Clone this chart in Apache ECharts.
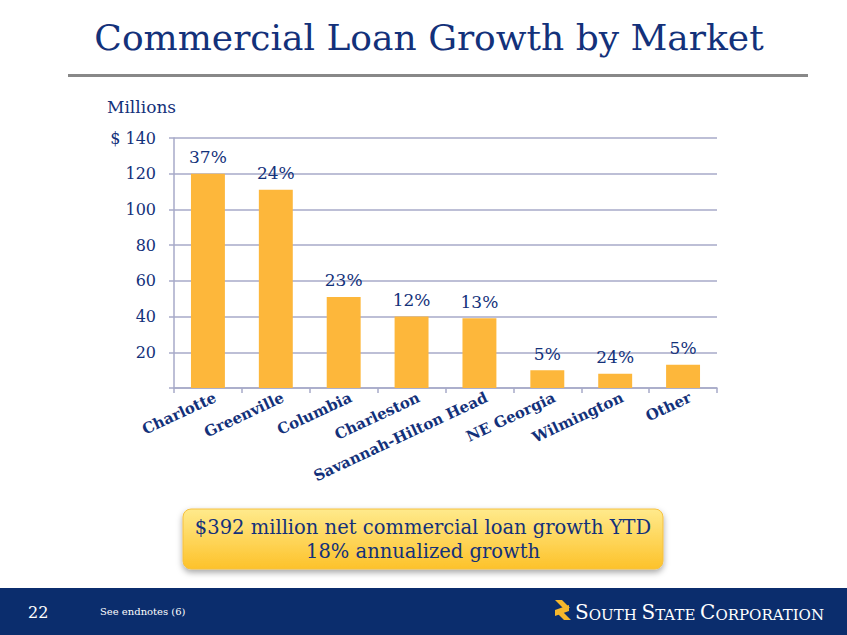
<!DOCTYPE html>
<html>
<head>
<meta charset="utf-8">
<script src="https://cdn.jsdelivr.net/npm/echarts@6/dist/echarts.min.js"></script>
<style>
  html, body { margin: 0; padding: 0; background: #fff; }
  #chart { width: 847px; height: 635px; }
</style>
</head>
<body>
<div id="chart"></div>
<script>
// markets and YTD growth ($ millions)
const markets = ['Charlotte', 'Greenville', 'Columbia', 'Charleston',
  'Savannah-Hilton Head', 'NE Georgia', 'Wilmington', 'Other'];
const growth = [120, 111, 51, 40, 39, 10, 8, 13];
const growthPct = ['37%', '24%', '23%', '12%', '13%', '5%', '24%', '5%'];

const navy = '#13317a';
const serif = '"DejaVu Serif", Georgia, serif';
const gridColor = '#a7aac8';

const chart = echarts.init(document.getElementById('chart'), null, { renderer: 'svg' });

const option = {
  animation: false,
  backgroundColor: '#fff',
  grid: { left: 174, right: 130, top: 138, bottom: 247 },
  xAxis: {
    type: 'category',
    data: markets,
    axisLine: { lineStyle: { color: gridColor, width: 1.5 } },
    axisTick: { show: true, length: 5, lineStyle: { color: gridColor, width: 1.5 } },
    axisLabel: {
      rotate: 25,
      interval: 0,
      margin: 12,
      color: navy,
      fontFamily: serif,
      fontWeight: 'bold',
      fontSize: 15,
      padding: [0, -8, 0, 0]
    }
  },
  yAxis: {
    type: 'value',
    min: 0,
    max: 140,
    interval: 20,
    axisLine: { show: true, lineStyle: { color: gridColor, width: 1.5 } },
    axisTick: { show: true, length: 5, lineStyle: { color: gridColor, width: 1.5 } },
    splitLine: { lineStyle: { color: gridColor, width: 1.5 } },
    axisLabel: {
      margin: 18,
      color: navy,
      fontFamily: serif,
      fontSize: 16,
      formatter: v => v === 0 ? '' : (v === 140 ? '$ 140' : String(v))
    }
  },
  series: [{
    type: 'bar',
    data: growth,
    barWidth: '50%',
    itemStyle: { color: '#fdb73b' },
    label: {
      show: true,
      position: 'top',
      distance: 8,
      color: navy,
      fontFamily: serif,
      fontSize: 17,
      formatter: p => growthPct[p.dataIndex]
    }
  }],
  graphic: [
    // title
    {
      type: 'text', x: 429, y: 37,
      style: { text: 'Commercial Loan Growth by Market', fill: navy,
        font: '36px ' + serif, align: 'center', verticalAlign: 'middle' }
    },
    {
      type: 'rect', shape: { x: 68, y: 74, width: 740, height: 3 },
      style: { fill: '#888888' }
    },
    {
      type: 'text', left: 107, top: 98,
      style: { text: 'Millions', fill: navy, font: '17px ' + serif }
    },
    // callout box
    {
      type: 'rect',
      shape: { x: 183, y: 509, width: 480, height: 60, r: 8 },
      style: {
        fill: new echarts.graphic.LinearGradient(0, 0, 0, 1, [
          { offset: 0, color: '#ffea8c' },
          { offset: 1, color: '#fdc22a' }
        ]),
        stroke: '#f5c040', lineWidth: 1,
        shadowBlur: 6, shadowOffsetY: 3, shadowColor: 'rgba(0,0,0,0.35)'
      }
    },
    {
      type: 'text', x: 423, y: 539,
      style: {
        text: '$392 million net commercial loan growth YTD\n18% annualized growth',
        fill: navy, font: '19.5px ' + serif, align: 'center', verticalAlign: 'middle',
        lineHeight: 24
      }
    },
    // footer band
    {
      type: 'rect', shape: { x: 0, y: 588, width: 847, height: 47 },
      style: { fill: '#0b2d6d' }
    },
    {
      type: 'text', x: 28, y: 612,
      style: { text: '22', fill: '#fff', font: '16px ' + serif, verticalAlign: 'middle' }
    },
    {
      type: 'text', x: 100, y: 611,
      style: { text: 'See endnotes (6)', fill: '#fff', font: '10px ' + serif, verticalAlign: 'middle' }
    },
    // logo mark
    {
      type: 'polygon',
      shape: { points: [[555, 600], [562, 600], [570, 608], [563, 608]] },
      style: { fill: '#f6b72c' }
    },
    {
      type: 'polygon',
      shape: { points: [[556, 612], [563, 612], [571, 620], [564, 620]] },
      style: { fill: '#f6b72c' }
    },
    {
      type: 'polygon',
      shape: { points: [[555, 610], [569, 605], [569, 611], [555, 616]] },
      style: { fill: '#f6b72c' }
    },
    {
      type: 'text', x: 575, y: 612,
      style: {
        text: '{b|S}{s|OUTH }{b|S}{s|TATE }{b|C}{s|ORPORATION}',
        fill: '#fff', verticalAlign: 'middle',
        rich: {
          b: { fill: '#fff', fontFamily: serif, fontSize: 20, verticalAlign: 'bottom' },
          s: { fill: '#fff', fontFamily: serif, fontSize: 15, verticalAlign: 'bottom' }
        }
      }
    }
  ]
};

chart.setOption(option);
</script>
</body>
</html>
